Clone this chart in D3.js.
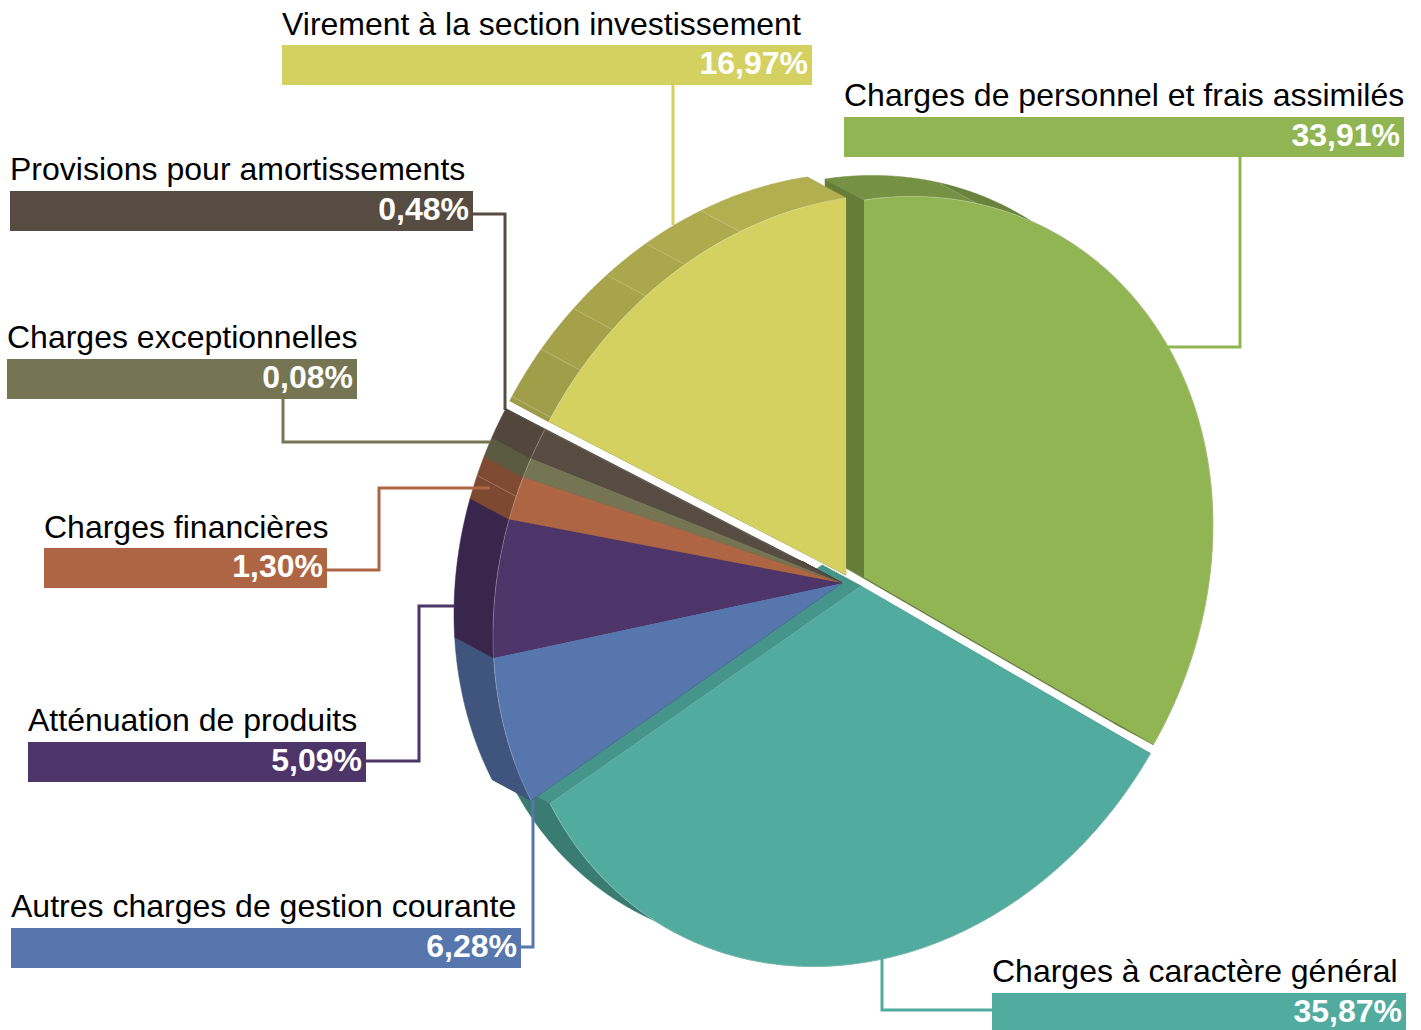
<!DOCTYPE html>
<html>
<head>
<meta charset="utf-8">
<script src="https://cdn.jsdelivr.net/npm/d3@7"></script>
<style>
  html, body { margin: 0; padding: 0; background: #fff; }
  svg { display: block; }
  text { font-family: "Liberation Sans", Arial, sans-serif; font-size: 32px; }
</style>
</head>
<body>
<div id="chart"></div>
<script>
const categories = ['Charges de personnel et frais assimilés', 'Charges à caractère général', 'Autres charges de gestion courante', 'Atténuation de produits', 'Charges financières', 'Charges exceptionnelles', 'Provisions pour amortissements', 'Virement à la section investissement'];
// printed on the labels
const percents = [33.91, 35.87, 6.28, 5.09, 1.30, 0.08, 0.48, 16.97];
// share of the circle each slice really takes in the picture, small ones are drawn bigger than their label
const drawnShares = [34.44, 33.06, 6.53, 5.83, 1.81, 0.83, 1.28, 16.22];
const colors = ['#92b553', '#51ab9f', '#5876ae', '#4e3569', '#ae6544', '#757554', '#574c42', '#d4d160'];

// layout only, same order as categories
const centers = [[864, 577], [861, 586], [842, 583], [842, 583], [842, 583], [842, 583], [842, 583], [846, 575]];
const boxes = [[844, 117, 560, 11], [992, 993, 414, 11], [11, 928, 510, 11], [28, 742, 338, 11], [44, 548, 283, 10], [7, 359, 350, 11], [10, 191, 463, 11], [282, 45, 530, 10]];
const leaders = [
  [[1240, 157], [1240, 347], [1168, 347]],
  [[882, 958], [882, 1010], [992, 1010]],
  [[521, 947], [533, 947], [533, 800]],
  [[366, 761], [419, 761], [419, 606], [455, 606]],
  [[327, 570], [379, 570], [379, 488], [490, 488]],
  [[283, 399], [283, 442], [490, 442]],
  [[473, 214], [505, 214], [505, 410]],
  [[673, 85], [673, 225]]
];
// thin light lines on the outer wall, in degrees from the top
const seamDegrees = [18.9, 291, 302.3, 310.4, 318, 325, 332.5, 342.3];
// small slices have a lighter wall than the others
const wallBoost = [1, 1, 1, 1, 1, 1.04, 1.25, 1];

const width = 1421;
const height = 1030;
const radiusX = 349;
const radiusY = 377;
const skew = 52;
const depth = [-39, -21];

const svg = d3.select('#chart')
  .append('svg')
    .attr('width', width)
    .attr('height', height);

const slices = d3.pie().sort(null)(drawnShares);
const line = d3.line();
const format = d3.format('.2f');
const toRadians = d3.scaleLinear().domain([0, 360]).range([0, 2 * Math.PI]);
const seams = seamDegrees.map(toRadians);

const project = (center, angle) => [
  center[0] + radiusX * Math.sin(angle),
  center[1] - radiusY * Math.cos(angle) - skew * Math.sin(angle)
];
const shift = p => [p[0] + depth[0], p[1] + depth[1]];
const arcPoints = (center, a0, a1) => {
  const n = Math.max(2, Math.ceil((a1 - a0) / 0.01));
  return d3.range(n + 1).map(i => project(center, a0 + (a1 - a0) * i / n));
};

// the outer wall gets darker going away from the top left light
const wallShade = angle => {
  const deg = toRadians.invert(angle);
  const away = Math.abs(((deg - 350 + 540) % 360) - 180);
  return Math.max(0.72, 0.84 - 0.0019 * away);
};
const shade = (color, k) => {
  const c = d3.rgb(color);
  return d3.rgb(c.r * k, c.g * k, c.b * k).formatHex();
};

const walls = svg.append('g').attr('class', 'walls');
const faces = svg.append('g').attr('class', 'faces');

slices.forEach((d, i) => {
  const center = centers[i];
  const g = walls.append('g');

  // radial walls
  [d.startAngle, d.endAngle].forEach(angle => {
    const p = project(center, angle);
    const k = (i === 1 ? 0.87 : 0.69) * wallBoost[i];
    g.append('path')
      .attr('d', line([center, p, shift(p), shift(center)]) + 'Z')
      .attr('fill', shade(colors[i], k))
      .attr('stroke', shade(colors[i], k))
      .attr('stroke-width', 0.5);
  });

  // outer wall cut in facets
  const cuts = seams.filter(a => a > d.startAngle && a < d.endAngle);
  const stops = [d.startAngle, ...cuts, d.endAngle];
  d3.pairs(stops).forEach(([a0, a1]) => {
    const front = arcPoints(center, a0, a1);
    const back = front.map(shift).reverse();
    const fill = shade(colors[i], wallShade((a0 + a1) / 2) * wallBoost[i]);
    g.append('path')
      .attr('d', line(front.concat(back)) + 'Z')
      .attr('fill', fill)
      .attr('stroke', fill)
      .attr('stroke-width', 0.5);
  });
  cuts.forEach(a => {
    const p = project(center, a);
    g.append('path')
      .attr('d', line([p, shift(p)]))
      .attr('stroke', '#fff')
      .attr('stroke-opacity', 0.22)
      .attr('stroke-width', 0.8);
  });

  faces.append('path')
    .attr('d', line([center, ...arcPoints(center, d.startAngle, d.endAngle)]) + 'Z')
    .attr('fill', colors[i]);
  faces.append('path')
    .attr('d', line(arcPoints(center, d.startAngle, d.endAngle)))
    .attr('fill', 'none')
    .attr('stroke', '#fff')
    .attr('stroke-opacity', 0.35)
    .attr('stroke-width', 0.7);
});

const labels = svg.append('g').attr('class', 'labels');

svg.append('g')
  .attr('class', 'leaders')
  .selectAll('path')
  .data(leaders)
  .join('path')
    .attr('d', d => line(d))
    .attr('fill', 'none')
    .attr('stroke', (d, i) => colors[i])
    .attr('stroke-width', 3);

categories.forEach((name, i) => {
  const [x, y, w, gap] = boxes[i];
  labels.append('text')
    .attr('x', x)
    .attr('y', y - gap)
    .attr('fill', '#000')
    .text(name);
  labels.append('rect')
    .attr('x', x)
    .attr('y', y)
    .attr('width', w)
    .attr('height', 40)
    .attr('fill', colors[i]);
  labels.append('text')
    .attr('x', x + w - 4)
    .attr('y', y + 29)
    .attr('text-anchor', 'end')
    .attr('fill', '#fff')
    .attr('font-weight', 'bold')
    .text(format(percents[i]).replace('.', ',') + '%');
});
</script>
</body>
</html>
